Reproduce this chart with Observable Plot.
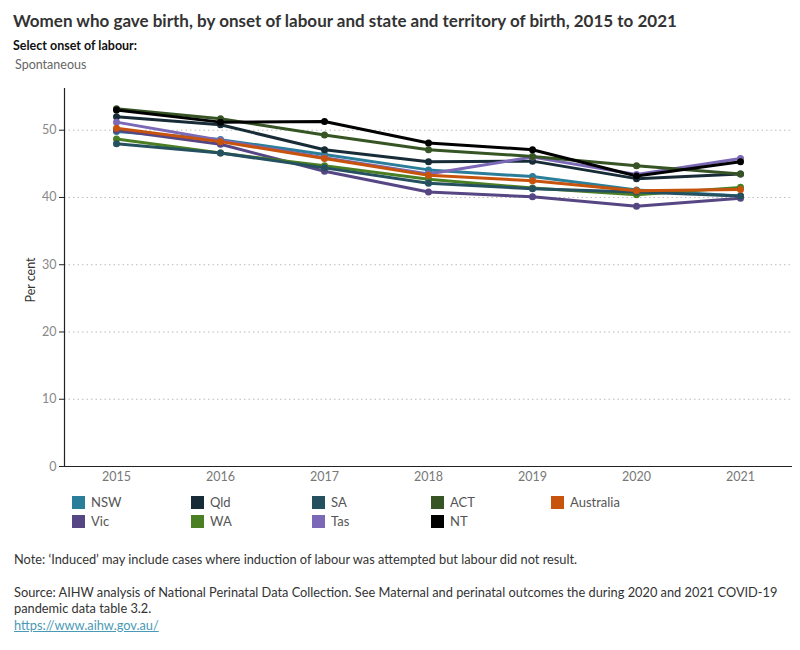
<!DOCTYPE html>
<html>
<head>
<meta charset="utf-8">
<script src="https://cdn.jsdelivr.net/npm/d3@7"></script>
<script src="https://cdn.jsdelivr.net/npm/@observablehq/plot@0.6"></script>
<style>
  body { margin: 0; background: #fff; font-family: Lato, "Noto Sans", sans-serif; color: #333; }
  #wrap { position: relative; width: 800px; height: 650px; }
  .title { position: absolute; left: 13px; top: 10px; font-size: 17px; font-weight: 700; color: #333; white-space: nowrap; }
  .sel { position: absolute; left: 13px; top: 38px; font-size: 12.5px; font-weight: 700; color: #111; }
  .selv { position: absolute; left: 15px; top: 57px; font-size: 12.5px; color: #666; }
  #chart { position: absolute; left: 0; top: 80px; }
  .ylab { position: absolute; left: 30px; top: 280px; font-size: 12.5px; color: #333; transform: translate(-50%, -50%) rotate(-90deg); white-space: nowrap; }
  .leg { position: absolute; font-size: 13px; color: #555; display: flex; align-items: center; }
  .leg span.sw { width: 13px; height: 13px; display: inline-block; margin-right: 6px; }
  .note { position: absolute; left: 14px; font-size: 12.8px; color: #333; white-space: nowrap; }
  .note a { color: #4a9ab5; }
</style>
</head>
<body>
<div id="wrap">
  <div class="title">Women who gave birth, by onset of labour and state and territory of birth, 2015 to 2021</div>
  <div class="sel">Select onset of labour:</div>
  <div class="selv">Spontaneous</div>
  <div id="chart"></div>
  <div class="ylab">Per cent</div>
  <div id="legend"></div>
  <div class="note" style="top:551px">Note: ‘Induced’ may include cases where induction of labour was attempted but labour did not result.</div>
  <div class="note" style="top:584px">Source: AIHW analysis of National Perinatal Data Collection. See Maternal and perinatal outcomes the during 2020 and 2021 COVID-19</div>
  <div class="note" style="top:600px">pandemic data table 3.2.</div>
  <div class="note" style="top:617px"><a href="https://www.aihw.gov.au/">https://www.aihw.gov.au/</a></div>
</div>
<script>
// Years on the x axis
const years = [2015, 2016, 2017, 2018, 2019, 2020, 2021];

// Per cent of women with spontaneous onset of labour, by state/territory
const nsw = [49.8, 48.6, 46.4, 44.1, 43.1, 41.1, 40.2];
const vic = [50.0, 47.9, 43.9, 40.8, 40.1, 38.7, 39.9];
const qld = [52.0, 50.8, 47.1, 45.3, 45.4, 42.8, 43.5];
const wa  = [48.7, 46.6, 44.7, 42.7, 41.4, 40.4, 41.5];
const sa  = [48.0, 46.6, 44.4, 42.1, 41.3, 40.8, 40.2];
const tas = [51.2, 48.5, 45.9, 43.5, 46.0, 43.4, 45.8];
const act = [53.2, 51.7, 49.3, 47.1, 46.1, 44.7, 43.5];
const nt  = [53.0, 51.2, 51.3, 48.1, 47.1, 43.2, 45.3];
const australia = [50.3, 48.3, 45.8, 43.3, 42.5, 41.0, 41.2];

const seriesNames = ["NSW", "Vic", "Qld", "WA", "SA", "Tas", "ACT", "NT", "Australia"];
const seriesValues = [nsw, vic, qld, wa, sa, tas, act, nt, australia];
const seriesColors = ["#2b7e99", "#564683", "#172c36", "#4a7f24", "#25505f", "#7b68b6", "#365424", "#000000", "#c8530d"];

const yTicks = [0, 10, 20, 30, 40, 50];

const rows = seriesNames.flatMap((name, i) =>
  years.map((year, j) => ({ series: name, year, value: seriesValues[i][j] }))
);

const chart = Plot.plot({
  width: 800,
  height: 410,
  marginLeft: 64,
  marginRight: 8,
  marginTop: 8,
  marginBottom: 24,
  style: { fontFamily: "Lato, 'Noto Sans', sans-serif", fontSize: "12px", background: "white" },
  x: { type: "linear", domain: [2014.5, 2021.5], axis: null },
  y: { domain: [0, 56.2], axis: null },
  color: { domain: seriesNames, range: seriesColors },
  marks: [
    Plot.gridY(yTicks.filter(d => d > 0), { stroke: "#bbb", strokeOpacity: 1, strokeDasharray: "1.5,3" }),
    Plot.axisY(yTicks, { tickSize: 5, tickPadding: 3, label: null, color: "#888", fontSize: 12.5, stroke: "#222" }),
    Plot.axisX(years, { tickSize: 0, tickPadding: 6, label: null, tickFormat: d => String(d), color: "#777", fontSize: 12.5 }),
    Plot.ruleX([2014.5], { stroke: "#222", strokeWidth: 1.2 }),
    Plot.ruleY([0], { stroke: "#222", strokeWidth: 1.2 }),
    Plot.line(rows, { x: "year", y: "value", z: "series", stroke: "series", strokeWidth: 3 }),
    Plot.dot(rows, { x: "year", y: "value", fill: "series", r: 3.5 })
  ]
});
document.getElementById("chart").appendChild(chart);

// Legend laid out in columns, two entries per column
const legendCols = [72, 191, 312, 431, 551];
const legend = document.getElementById("legend");
seriesNames.forEach((name, i) => {
  const col = Math.floor(i / 2), row = i % 2;
  const el = document.createElement("div");
  el.className = "leg";
  el.style.left = legendCols[col] + "px";
  el.style.top = (494 + row * 19) + "px";
  el.innerHTML = `<span class="sw" style="background:${seriesColors[i]}"></span>${name}`;
  legend.appendChild(el);
});
</script>
</body>
</html>
